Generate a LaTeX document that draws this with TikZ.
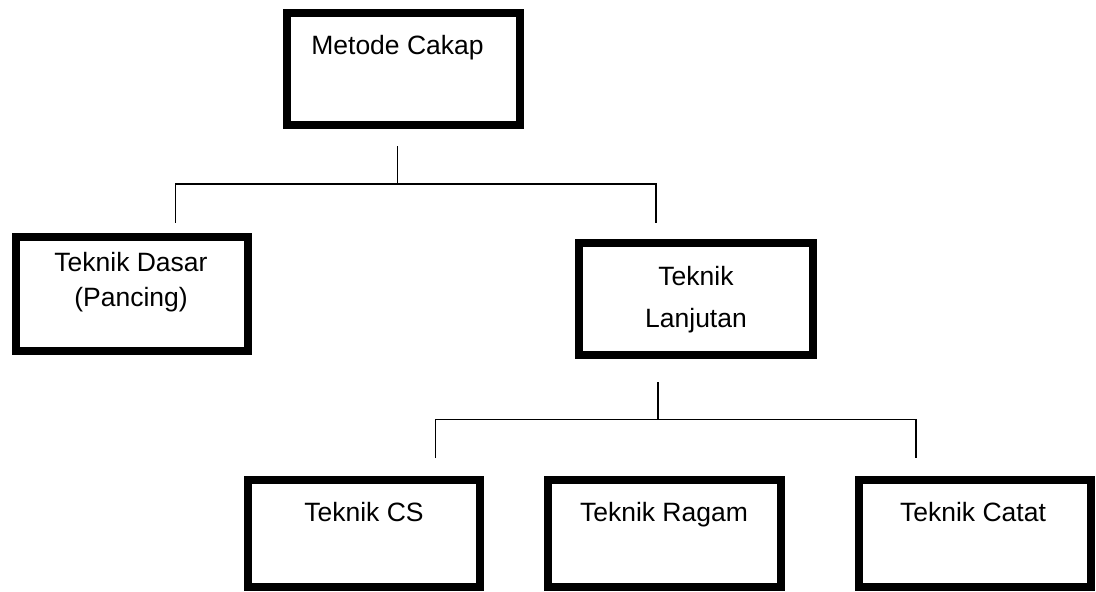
\documentclass[tikz,border=0pt]{standalone}
\usepackage{fontspec}
\setmainfont{Liberation Sans}
\begin{document}
\begin{tikzpicture}[x=1pt,y=-1pt,
  box/.style={draw=black, line width=8pt, rectangle, inner sep=0pt, minimum width=233pt},
  txt/.style={font=\fontsize{26.5}{35}\selectfont, inner sep=0pt, anchor=base, align=center},
  conn/.style={draw=black, line width=1.5pt}]
\useasboundingbox (0,0) rectangle (1096,592);
% boxes
\node[box, minimum height=112pt] (m) at (403.5,69) {};
\node[box, minimum width=232pt, minimum height=114pt] (d) at (131.7,294) {};
\node[box, minimum width=234pt, minimum height=112pt] (l) at (696,299) {};
\node[box, minimum width=232pt, minimum height=107pt] (cs) at (364,533.5) {};
\node[box, minimum height=107pt] (rg) at (664,533.5) {};
\node[box, minimum width=232pt, minimum height=107pt] (ct) at (975,533.5) {};
% texts
\node[txt] (mt) at (397.5,54) {Metode Cakap};
\node[txt] (dt) at (131,306.7) {Teknik Dasar\\(Pancing)};
\node[txt, font=\fontsize{26.5}{42}\selectfont] (lt) at (696,327.3) {Teknik\\Lanjutan};
\node[txt] (cst) at (364,521.7) {Teknik CS};
\node[txt] (rgt) at (664,521.7) {Teknik Ragam};
\node[txt] (ctt) at (973,521.7) {Teknik Catat};
% junctions
\coordinate (m1) at (397.7,146);
\coordinate (m2) at (397.7,184);
\coordinate (dl) at (175.7,184);
\coordinate (dr) at (656,184);
\coordinate (dle) at (175.7,222.7);
\coordinate (dre) at (656,223);
\coordinate (l1) at (658,382);
\coordinate (l2) at (658,419.5);
\coordinate (bl) at (435.7,419.5);
\coordinate (br) at (916,419.5);
\coordinate (ble) at (435.7,458);
\coordinate (bre) at (916,458);
% connectors
\draw[conn] (m1) -- (m2);
\draw[conn] (dle) -- (dl) -- (dr) -- (dre);
\draw[conn] (l1) -- (l2);
\draw[conn] (ble) -- (bl) -- (br) -- (bre);
\end{tikzpicture}
\end{document}
